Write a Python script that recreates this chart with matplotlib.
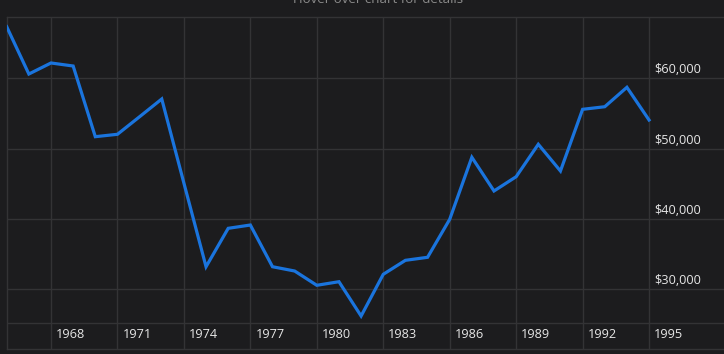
import matplotlib
matplotlib.use("Agg")
import matplotlib.pyplot as plt
import matplotlib.transforms as mtransforms

years = list(range(1966, 1996))
values = [67340, 60610, 62180, 61750, 51700, 52040, 54540, 57060, 45100, 33210,
          38670, 39140, 33210, 32600, 30570, 31080, 26200, 32130, 34120, 34550,
          39950, 48770, 43980, 46010, 50620, 46820, 55590, 55960, 58720, 54070]
x_ticks = list(range(1968, 1996, 3))
y_ticks = [30000, 40000, 50000, 60000]
y_labels = ["$30,000", "$40,000", "$50,000", "$60,000"]
title = "Hover over chart for details"

BG = "#1c1c1e"
GRID = "#333335"
LINE = "#1a74dd"
TXT = "#e6e6e6"

W, H = 724, 354
fig = plt.figure(figsize=(W / 100, H / 100), dpi=100, facecolor=BG)
left_px, right_px, top_px, bot_px = 6.7, 724, 17, 349
ax = fig.add_axes([left_px / W, (H - bot_px) / H, (right_px - left_px) / W, (bot_px - top_px) / H])
ax.set_facecolor(BG)

ppy = 22.15
ax.set_xlim(1966, 1966 + (right_px - left_px) / ppy)
ppv = 7.033 / 1000.0
ax.set_ylim(30000 - (bot_px - 289.3) / ppv, 30000 + (289.3 - top_px) / ppv)

ax.plot(years, values, color=LINE, lw=2.3, solid_joinstyle="miter", zorder=3)

ax.set_xticks(x_ticks)
ax.set_yticks(y_ticks)
ax.grid(True, color=GRID, lw=1.0, zorder=0)
ax.tick_params(length=0, labelbottom=False, labelleft=False)
ax.axhline(30000 - 34 / ppv, color=GRID, lw=1.0, zorder=0)

for side in ["right"]:
    ax.spines[side].set_visible(False)
for side in ["left", "top", "bottom"]:
    ax.spines[side].set_color(GRID)
    ax.spines[side].set_linewidth(1.0)

font = "Open Sans"
trans_x = ax.get_xaxis_transform() + mtransforms.ScaledTranslation(5 / 100, 0, fig.dpi_scale_trans)
for yr in x_ticks:
    ax.text(yr, (bot_px - 334) / (bot_px - top_px), str(yr), transform=trans_x,
            ha="left", va="center", color=TXT, fontsize=9.2, family=font)

trans_y = ax.transData + mtransforms.ScaledTranslation(5.7 / 100, 8.6 / 100, fig.dpi_scale_trans)
for v, lab in zip(y_ticks, y_labels):
    ax.text(1995, v, lab, transform=trans_y, ha="left", va="center",
            color=TXT, fontsize=9.2, family=font)

fig.text(378 / W, 1 - 3 / H, title, ha="center", va="baseline",
         color="#8c8c8c", fontsize=9.5, family=font)

fig.savefig("out.png", dpi=100, facecolor=BG)
